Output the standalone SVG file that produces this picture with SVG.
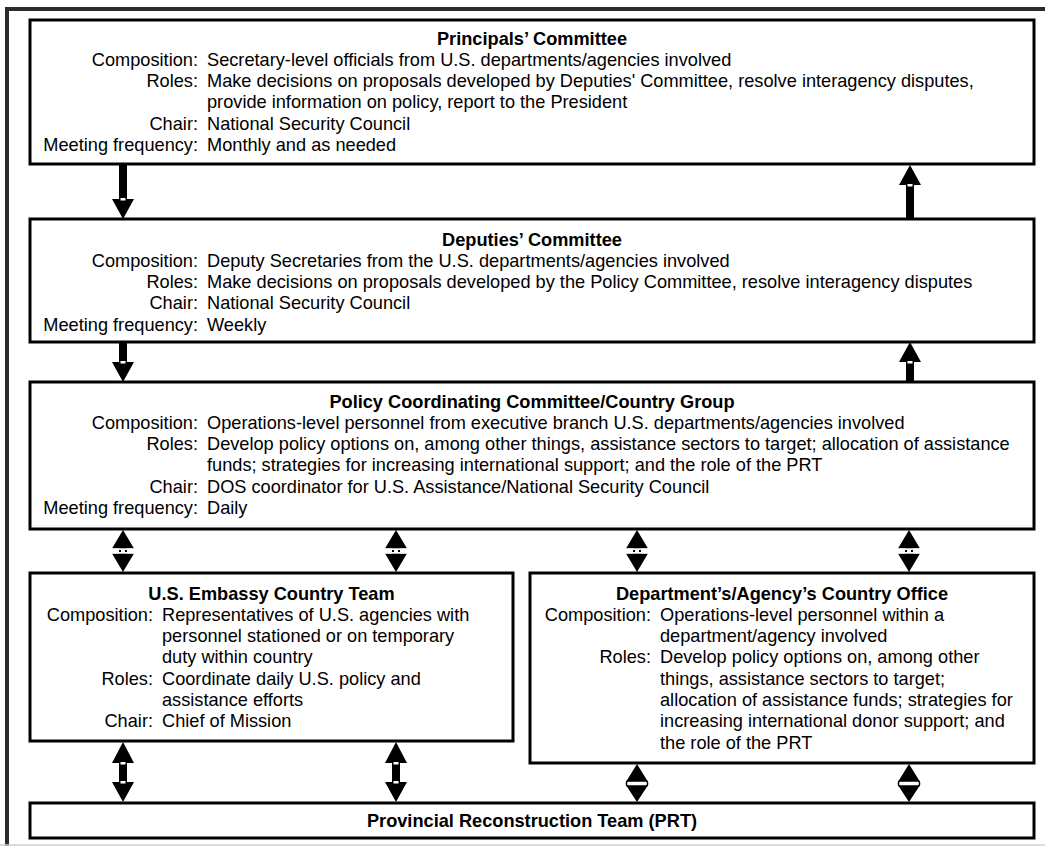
<svg xmlns="http://www.w3.org/2000/svg" width="1045" height="846" viewBox="0 0 1045 846">
<style>
text{font-family:"Liberation Sans",Arial,Helvetica,sans-serif;font-size:18.2px;fill:#000}
.t{font-weight:bold;text-anchor:middle}
.l{text-anchor:end}
.box{fill:#fff;stroke:#000;stroke-width:3}
.ar{fill:#000;stroke:none}
.w{fill:#fff;stroke:none}
.wb{fill:#fff;stroke:#000;stroke-width:1.5}
</style>
<rect width="1045" height="846" fill="#fff"/>
<path d="M7,846 V9 H1045" fill="none" stroke="#2b2b2b" stroke-width="4"/>
<line x1="0" y1="845" x2="1045" y2="845" stroke="#cfcfcf" stroke-width="1.5"/>

<g id="connectors">
  <!-- box1 -> box2 down -->
  <path class="ar" d="M119,164 H127 V199 H134 L123,219 L112,199 H119 Z"/>
  <rect class="w" x="120.5" y="198" width="5" height="2.5"/>
  <!-- box2 -> box1 up -->
  <path class="ar" d="M910,165 L921,185 H914 V219 H906 V185 H899 Z"/>
  <rect class="w" x="907.5" y="184" width="5" height="2.5"/>
  <!-- box2 -> box3 down -->
  <path class="ar" d="M119,342 H127 V362 H134 L123,382 L112,362 H119 Z"/>
  <rect class="w" x="120.5" y="361" width="5" height="2.5"/>
  <!-- box3 -> box2 up -->
  <path class="ar" d="M910,342 L921,362 H914 V382 H906 V362 H899 Z"/>
  <rect class="w" x="907.5" y="361" width="5" height="2.5"/>

  <!-- box3 <-> box4/box5 double arrows -->
  <g id="dbl1" transform="translate(123,0)">
    <path class="ar" d="M0,530 L11,548.5 H-11 Z M-4,548 H4 V554 H-4 Z M-11,553.5 H11 L0,572 Z"/>
    <rect class="w" x="-11" y="548.3" width="22" height="1.7"/>
    <rect class="w" x="-11" y="552" width="22" height="1.7"/>
    <rect class="w" x="-2" y="550" width="4" height="2"/>
  </g>
  <use href="#dbl1" transform="translate(273,0)"/>
  <use href="#dbl1" transform="translate(514,0)"/>
  <use href="#dbl1" transform="translate(786,0)"/>

  <!-- box4 <-> PRT -->
  <g id="dbl2" transform="translate(123,0)">
    <path class="ar" d="M0,742 L11,763 H4 V782 H11 L0,802 L-11,782 H-4 V763 H-11 Z"/>
    <rect class="w" x="-2.5" y="762" width="5" height="2.5"/>
    <rect class="w" x="-2.5" y="781" width="5" height="2.5"/>
  </g>
  <use href="#dbl2" transform="translate(273,0)"/>

  <!-- box5 <-> PRT -->
  <g id="dbl3" transform="translate(637,0)">
    <path class="ar" d="M0,764 L10.5,781 H-10.5 Z M-10.5,786 H10.5 L0,802 Z"/>
    <rect class="wb" x="-10.5" y="781" width="21" height="5" rx="1.5"/>
  </g>
  <use href="#dbl3" transform="translate(272,0)"/>
</g>

<g id="principals">
  <rect class="box" x="30" y="20" width="1004" height="144"/>
  <text class="t" x="532" y="44.5">Principals’ Committee</text>
  <text class="l" x="198" y="65.8">Composition:</text>
  <text x="207" y="65.8">Secretary-level officials from U.S. departments/agencies involved</text>
  <text class="l" x="198" y="87.1">Roles:</text>
  <text x="207" y="87.1">Make decisions on proposals developed by Deputies' Committee, resolve interagency disputes,</text>
  <text x="207" y="108.4">provide information on policy, report to the President</text>
  <text class="l" x="198" y="129.7">Chair:</text>
  <text x="207" y="129.7">National Security Council</text>
  <text class="l" x="198" y="151">Meeting frequency:</text>
  <text x="207" y="151">Monthly and as needed</text>
</g>

<g id="deputies">
  <rect class="box" x="30" y="219" width="1004" height="123"/>
  <text class="t" x="532" y="245.5">Deputies’ Committee</text>
  <text class="l" x="198" y="266.8">Composition:</text>
  <text x="207" y="266.8">Deputy Secretaries from the U.S. departments/agencies involved</text>
  <text class="l" x="198" y="288.1">Roles:</text>
  <text x="207" y="288.1">Make decisions on proposals developed by the Policy Committee, resolve interagency disputes</text>
  <text class="l" x="198" y="309.4">Chair:</text>
  <text x="207" y="309.4">National Security Council</text>
  <text class="l" x="198" y="330.7">Meeting frequency:</text>
  <text x="207" y="330.7">Weekly</text>
</g>

<g id="policy">
  <rect class="box" x="30" y="382" width="1004" height="147"/>
  <text class="t" x="532" y="407.5">Policy Coordinating Committee/Country Group</text>
  <text class="l" x="198" y="428.8">Composition:</text>
  <text x="207" y="428.8">Operations-level personnel from executive branch U.S. departments/agencies involved</text>
  <text class="l" x="198" y="450.1">Roles:</text>
  <text x="207" y="450.1">Develop policy options on, among other things, assistance sectors to target; allocation of assistance</text>
  <text x="207" y="471.4">funds; strategies for increasing international support; and the role of the PRT</text>
  <text class="l" x="198" y="492.7">Chair:</text>
  <text x="207" y="492.7">DOS coordinator for U.S. Assistance/National Security Council</text>
  <text class="l" x="198" y="514">Meeting frequency:</text>
  <text x="207" y="514">Daily</text>
</g>

<g id="embassy">
  <rect class="box" x="30" y="573" width="483" height="168"/>
  <text class="t" x="271.5" y="599.5">U.S. Embassy Country Team</text>
  <text class="l" x="153" y="620.8">Composition:</text>
  <text x="162" y="620.8">Representatives of U.S. agencies with</text>
  <text x="162" y="642.1">personnel stationed or on temporary</text>
  <text x="162" y="663.4">duty within country</text>
  <text class="l" x="153" y="684.7">Roles:</text>
  <text x="162" y="684.7">Coordinate daily U.S. policy and</text>
  <text x="162" y="706">assistance efforts</text>
  <text class="l" x="153" y="727.3">Chair:</text>
  <text x="162" y="727.3">Chief of Mission</text>
</g>

<g id="country-office">
  <rect class="box" x="530" y="573" width="504" height="190"/>
  <text class="t" x="782" y="599.5">Department’s/Agency’s Country Office</text>
  <text class="l" x="651" y="620.8">Composition:</text>
  <text x="660" y="620.8">Operations-level personnel within a</text>
  <text x="660" y="642.1">department/agency involved</text>
  <text class="l" x="651" y="663.4">Roles:</text>
  <text x="660" y="663.4">Develop policy options on, among other</text>
  <text x="660" y="684.7">things, assistance sectors to target;</text>
  <text x="660" y="706">allocation of assistance funds; strategies for</text>
  <text x="660" y="727.3">increasing international donor support; and</text>
  <text x="660" y="748.6">the role of the PRT</text>
</g>

<g id="prt">
  <rect class="box" x="30" y="803" width="1004" height="35"/>
  <text class="t" x="532" y="827">Provincial Reconstruction Team (PRT)</text>
</g>
</svg>
